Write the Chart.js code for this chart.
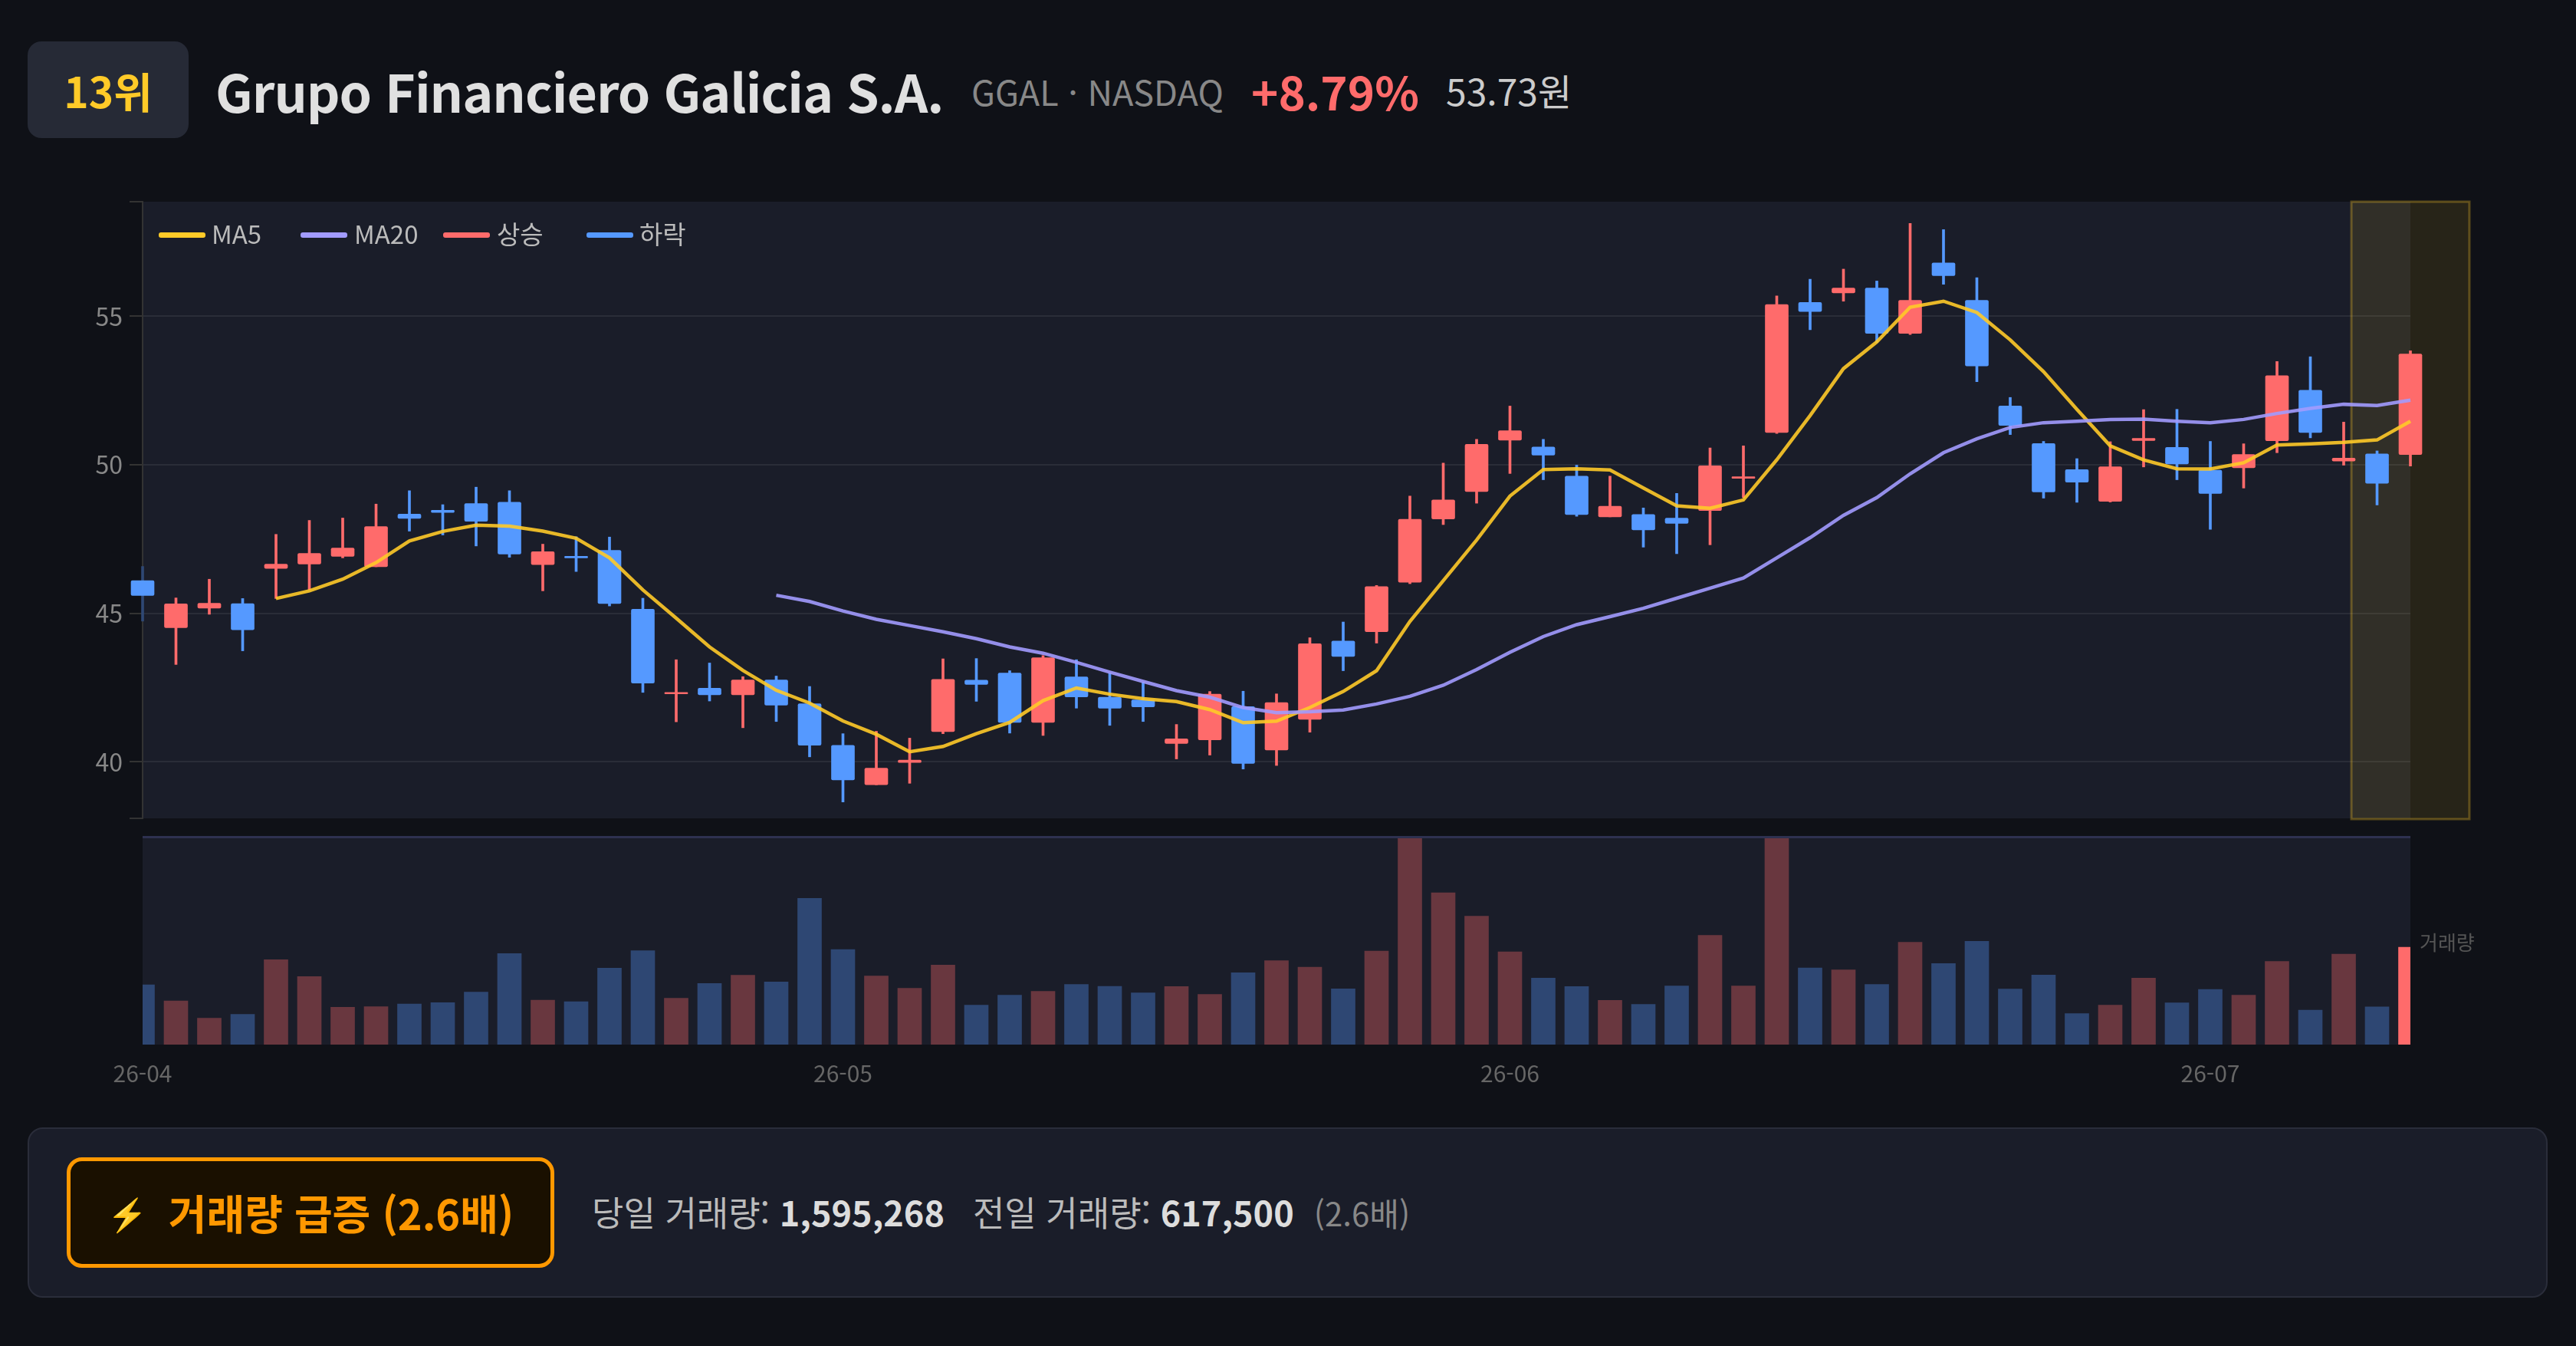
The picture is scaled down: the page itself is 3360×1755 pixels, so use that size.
<!DOCTYPE html>
<html lang="ko">
<head>
<meta charset="utf-8">
<title>GGAL</title>
<script src="https://cdn.jsdelivr.net/npm/chart.js@4/dist/chart.umd.js"></script>
<style>
html,body{margin:0;padding:0;width:3360px;height:1755px;background:#0f1117;overflow:hidden;font-family:"Noto Sans CJK KR","Noto Sans",sans-serif;}
.abs{position:absolute;white-space:nowrap;line-height:1;}
canvas{position:absolute;left:0;}
#rank{left:36px;top:54px;width:210px;height:126px;background:#262a36;border-radius:18px;color:#ffca28;font-weight:700;font-size:55px;display:flex;align-items:center;justify-content:center;}
#panel{left:36px;top:1470px;width:3287px;height:222px;box-sizing:border-box;background:#1a1d29;border:2px solid #2a2d3a;border-radius:20px;}
#alert{left:87px;top:1509px;width:636px;height:144px;box-sizing:border-box;background:#1a1000;border:5px solid #ff9800;border-radius:20px;color:#ff9800;font-weight:700;font-size:54px;display:flex;align-items:center;justify-content:center;}
</style>
</head>
<body>
<div class="abs" id="rank">13위</div>
<div class="abs" style="left:281px;top:84px;font-size:68px;letter-spacing:-1px;font-weight:700;color:#e0e0e0;">Grupo Financiero Galicia S.A.</div>
<div class="abs" style="left:1267px;top:96px;font-size:45px;color:#888;">GGAL · NASDAQ</div>
<div class="abs" style="left:1632px;top:88px;font-size:60px;font-weight:700;color:#ff6b6b;">+8.79%</div>
<div class="abs" style="left:1886px;top:93px;font-size:48px;color:#ccc;">53.73원</div>

<canvas id="price" width="3360" height="900" style="top:200px"></canvas>
<canvas id="volume" width="3360" height="380" style="top:1060px"></canvas>
<div id="legend"></div>
<div class="abs" style="left:3156px;top:1215px;font-size:26px;color:#555;">거래량</div>

<div class="abs" id="panel"></div>
<div class="abs" id="alert"><span style="font-size:42px;margin-right:28px">⚡</span>거래량 급증 (2.6배)</div>
<div class="abs" style="left:772px;top:1557px;font-size:45px;color:#bbb;">당일 거래량: <b style="color:#ddd">1,595,268</b><span style="display:inline-block;width:37px"></span>전일 거래량: <b style="color:#ddd">617,500</b><span style="display:inline-block;width:26px"></span><span style="color:#888;font-size:42px">(2.6배)</span></div>

<script>
const categories = ['26-04','','','','','','','','','','','','','','','','','','','','',
 '26-05','','','','','','','','','','','','','','','','','','','',
 '26-06','','','','','','','','','','','','','','','','','','','','',
 '26-07','','','','','',''];
const opens = [46.10,44.52,45.18,45.33,46.51,46.66,46.92,46.57,48.34,48.47,48.70,48.74,46.64,46.92,47.12,45.14,42.29,42.48,42.26,42.76,41.96,40.56,39.23,39.98,41.02,42.75,42.99,41.33,42.86,42.18,42.09,40.62,40.74,41.86,40.40,41.43,44.07,44.38,46.05,48.18,49.10,50.83,50.60,49.62,48.25,48.33,48.21,48.46,49.55,51.09,55.47,55.79,55.95,54.43,56.80,55.54,51.98,50.72,49.84,48.77,50.82,50.59,49.82,49.90,50.81,52.51,50.13,50.37,50.35];
const closes = [45.60,45.32,45.34,44.45,46.66,47.02,47.20,47.92,48.20,48.40,48.10,47.00,47.08,46.87,45.33,42.65,42.34,42.26,42.76,41.91,40.56,39.39,39.79,40.06,42.78,42.61,41.33,43.51,42.19,41.81,41.85,40.78,42.28,39.95,42.00,43.98,43.55,45.90,48.17,48.82,50.69,51.15,50.33,48.33,48.61,47.81,48.03,49.97,49.60,55.40,55.16,55.95,54.43,55.54,56.37,53.33,51.33,49.09,49.42,49.94,50.89,50.03,49.04,50.35,53.00,51.09,50.23,49.38,53.73];
const highs = [46.58,45.52,46.15,45.50,47.66,48.13,48.21,48.68,49.13,48.66,49.25,49.13,47.33,47.58,47.57,45.51,43.44,43.33,42.87,42.89,42.54,40.95,41.03,40.80,43.47,43.48,43.07,43.58,43.44,42.99,42.69,41.26,42.37,42.38,42.29,44.18,44.71,45.94,48.95,50.06,50.86,51.98,50.86,49.99,49.62,48.55,49.04,50.57,50.64,55.69,56.25,56.59,56.19,58.13,57.92,56.30,52.27,50.79,50.21,50.78,51.86,51.87,50.79,50.71,53.48,53.64,51.44,50.47,53.84];
const lows = [44.74,43.28,44.97,43.74,45.50,45.79,46.87,46.57,47.77,47.64,47.27,46.89,45.76,46.41,45.25,42.34,41.35,42.05,41.15,41.36,40.17,38.65,39.23,39.28,40.95,42.04,40.97,40.89,41.81,41.23,41.36,40.10,40.23,39.76,39.88,41.00,43.07,44.00,46.00,47.99,48.71,49.71,49.50,48.27,48.25,47.23,47.01,47.31,48.90,51.06,54.55,55.51,54.12,54.39,56.08,52.80,51.02,48.88,48.74,48.75,49.93,49.50,47.83,49.22,50.41,50.91,49.99,48.65,49.96];
const ma5 = [null,null,null,null,45.50,45.76,46.15,46.71,47.44,47.76,47.97,47.94,47.77,47.53,46.87,45.79,44.84,43.87,43.08,42.41,41.98,41.38,40.93,40.34,40.52,40.95,41.33,42.06,42.49,42.28,42.13,42.03,41.76,41.32,41.37,41.83,42.37,43.07,44.73,46.10,47.47,48.95,49.84,49.87,49.83,49.22,48.62,48.54,48.82,50.17,51.66,53.24,54.14,55.31,55.51,55.13,54.21,53.14,51.87,50.64,50.17,49.87,49.86,50.07,50.67,50.71,50.76,50.84,51.47];
const ma20 = [null,null,null,null,null,null,null,null,null,null,null,null,null,null,null,null,null,null,null,45.61,45.40,45.08,44.80,44.59,44.38,44.15,43.87,43.66,43.35,43.02,42.71,42.40,42.18,41.83,41.66,41.69,41.75,41.95,42.21,42.58,43.11,43.69,44.22,44.62,44.89,45.17,45.51,45.85,46.19,46.87,47.55,48.30,48.90,49.70,50.41,50.88,51.26,51.42,51.47,51.53,51.54,51.47,51.42,51.53,51.73,51.90,52.04,52.00,52.18];
const volumes = [979700,715900,430800,493600,1390400,1114100,611700,619200,665700,687000,857800,1490900,728500,703400,1252200,1536100,757400,1001000,1134200,1026200,2395200,1557400,1121600,923200,1302500,644300,807600,870400,983400,954600,845300,950800,820200,1176900,1372800,1268600,913100,1532300,3600000,2486900,2101300,1519800,1088900,950800,724700,656900,958300,1787300,958300,3950000,1256000,1222100,983400,1674200,1327600,1691800,908100,1139200,506200,644300,1088900,682000,904300,807600,1360200,565200,1482100,617500,1595268];
const legendNames = ['MA5','MA20','상승','하락'];
const legendColors = ['#ffca28','#a29bfe','#ff6b6b','#5599ff'];
const priceTicks = [40,45,50,55];

const UP='#ff6b6b', DOWN='#5599ff', UP_DIM='rgba(255,107,107,0.35)', DOWN_DIM='rgba(85,153,255,0.35)';
const isUp = i => closes[i] >= opens[i];
const lastIndex = categories.length-1;

const plotBg = {
  id:'plotBg',
  beforeDraw(c){const a=c.chartArea,x=c.ctx;x.save();x.fillStyle='#1a1d29';x.fillRect(a.left,a.top,a.right-a.left,a.bottom-a.top);x.restore();}
};
const band = {
  id:'band',
  beforeDatasetsDraw(c){
    const a=c.chartArea,x=c.ctx,cx=c.scales.x.getPixelForValue(lastIndex);
    x.save();
    x.fillStyle='rgba(255,202,40,0.1)';x.strokeStyle='rgba(255,202,40,0.3)';x.lineWidth=3;
    x.fillRect(cx-77,a.top,154,a.bottom-a.top+1);
    x.strokeRect(cx-77,a.top,154,a.bottom-a.top+1);
    x.restore();
  }
};
const topRule = {
  id:'topRule',
  afterDraw(c){const a=c.chartArea,x=c.ctx;x.save();x.strokeStyle='#2e3150';x.lineWidth=3;x.beginPath();x.moveTo(a.left,a.top+1.5);x.lineTo(a.right,a.top+1.5);x.stroke();x.restore();}
};

new Chart(document.getElementById('price'),{
  type:'bar',
  plugins:[plotBg,band],
  data:{labels:categories,datasets:[
    {type:'line',label:'MA5',data:ma5,borderColor:'rgba(255,202,40,0.9)',borderWidth:4.5,pointRadius:0,tension:0,order:1,spanGaps:false,clip:false},
    {type:'line',label:'MA20',data:ma20,borderColor:'rgba(162,155,254,0.9)',borderWidth:4.5,pointRadius:0,tension:0,order:0,spanGaps:false,clip:false},
    {label:'몸통',data:opens.map((o,i)=>[Math.min(o,closes[i]),Math.max(o,closes[i])]),backgroundColor:opens.map((o,i)=>isUp(i)?UP:DOWN),barThickness:30,borderRadius:2,borderSkipped:false,grouped:false,order:2,clip:false},
    {label:'꼬리',data:lows.map((l,i)=>[l,highs[i]]),backgroundColor:lows.map((l,i)=>i===0?'#2f4874':(isUp(i)?UP:DOWN)),barThickness:3,grouped:false,order:3,clip:false}
  ]},
  options:{
    responsive:false,animation:false,devicePixelRatio:1,
    layout:{padding:{left:96,right:216,top:63,bottom:33}},
    plugins:{legend:{display:false},tooltip:{enabled:false}},
    scales:{
      x:{display:false,offset:false,grid:{display:false}},
      y:{min:38.1,max:58.86,
        afterFit(s){s.width=90;},
        border:{display:true,color:'#333',width:2},
        grid:{color:c=>priceTicks.includes(c.tick&&c.tick.value)?'#2a2d38':'rgba(0,0,0,0)',lineWidth:2,tickColor:'#333',tickLength:17,drawTicks:true},
        ticks:{stepSize:5,padding:9,color:'#888',font:{family:'"Noto Sans CJK KR"',size:32},
          callback:v=>priceTicks.includes(v)?String(v):''}
      }
    }
  }
});

new Chart(document.getElementById('volume'),{
  type:'bar',
  plugins:[plotBg,topRule],
  data:{labels:categories,datasets:[
    {label:'거래량',data:volumes,backgroundColor:volumes.map((v,i)=>i===lastIndex?UP:(isUp(i)?UP_DIM:DOWN_DIM)),barThickness:31,borderWidth:0}
  ]},
  options:{
    responsive:false,animation:false,devicePixelRatio:1,
    layout:{padding:{left:186,right:216,top:30,bottom:28}},
    plugins:{legend:{display:false},tooltip:{enabled:false}},
    scales:{
      x:{offset:false,afterFit(s){s.height=50;},
        border:{display:false},grid:{display:false,drawTicks:false},
        ticks:{autoSkip:false,maxRotation:0,minRotation:0,padding:20,color:'#666',font:{family:'"Noto Sans CJK KR"',size:30}}},
      y:{display:false,min:0,max:3416000}
    }
  }
});

const lineX=[207,392,578,765], textX=[276,462,648,834];
const holder=document.getElementById('legend');
legendNames.forEach((n,i)=>{
  const line=document.createElement('div');
  line.style.cssText=`position:absolute;left:${lineX[i]}px;top:303px;width:61px;height:7px;border-radius:3px;background:${legendColors[i]}`;
  const t=document.createElement('div');
  t.className='abs';t.textContent=n;
  t.style.cssText=`left:${textX[i]}px;top:288px;font-size:33px;color:#bbb`;
  holder.append(line,t);
});
</script>
</body>
</html>
